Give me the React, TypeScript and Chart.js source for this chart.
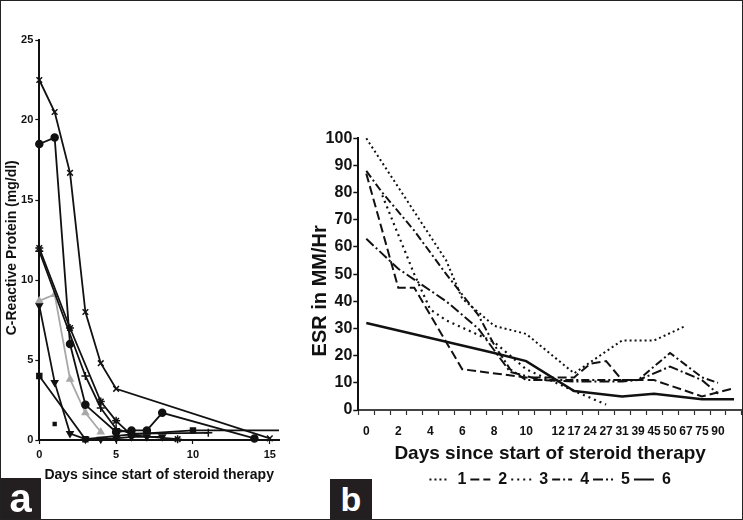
import { useEffect, useRef } from 'react';
import { Chart, registerables } from 'chart.js';

Chart.register(...registerables);

// ---------- Panel a : C-Reactive Protein ----------
const crpXMax = 15.6;
const crpYMax = 25;

const crp1Days = [0, 1, 2, 3, 4, 5, 15];
const crp1 = [22.5, 20.5, 16.7, 8.0, 4.8, 3.2, 0.1];
const crp2Days = [0, 1, 2, 3, 5, 6, 7, 8, 14];
const crp2 = [18.5, 18.9, 6.0, 2.2, 0.5, 0.6, 0.6, 1.7, 0.1];
const crp3Days = [0, 2, 4, 5, 6, 9];
const crp3 = [12.0, 7.0, 2.4, 1.2, 0.3, 0.05];
const crp4Days = [0, 3, 4, 5, 6, 11];
const crp4 = [11.8, 4.0, 2.0, 0.7, 0.4, 0.45];
const crp5Days = [0, 1, 2, 3, 4];
const crp5 = [8.7, 9.1, 3.8, 1.7, 0.5];
const crp6Days = [0, 1, 2, 3, 4, 5, 6, 7, 8];
const crp6 = [8.4, 3.6, 0.4, 0.05, 0.05, 0.1, 0.2, 0.2, 0.2];
const crp7Days = [0, 3, 6, 10, 15.6];
const crp7 = [4.0, 0.05, 0.35, 0.6, 0.6];
const crp8Days = [1];
const crp8 = [1.0];

// ---------- Panel b : ESR ----------
const esrDays = ['0', '1', '2', '3', '4', '5', '6', '7', '8', '9', '10', '11', '12',
  '17', '24', '27', '31', '39', '45', '50', '67', '75', '90', ''];
const esrSeriesNames = ['1', '2', '3', '4', '5', '6'];
const esr1 = [100, null, null, null, null, 55, 41, null, 31, null, 28, null, null, 13.5, null, null, 25.6, null, 25.6, null, 31, null, null, null];
const esr2 = [87, null, 45, 45, null, null, 15, null, null, null, 12, null, null, 12, 17, 18, 11, null, 11, null, null, 5, null, 8];
const esr3 = [null, 79, null, 50, 37, 33, null, null, 25, null, 15, null, null, 7, null, 2, null, null, null, null, null, null, null, null];
const esr4 = [88, 80, null, 66, null, 50, null, 35, 24, 15, 11, null, null, 11, null, null, null, 11, null, 21, null, 12, 10, null];
const esr5 = [63, null, 52, null, null, 40, null, 30, null, 14, null, 11, null, 10.5, null, null, 10.5, 11, null, 16, null, 11, 6, null];
const esr6 = [32, null, null, null, null, null, null, null, 21, null, 18, null, null, 7, null, null, 5, null, 6, null, null, 4, null, 4];

const INK = '#111';
const SANS = '"Liberation Sans", Arial, sans-serif';

const pts = (days: number[], vals: number[]) => days.map((d, i) => ({ x: d, y: vals[i] }));

function crpSet(days: number[], vals: number[], style: any, extra: any = {}) {
  return {
    data: pts(days, vals),
    showLine: true,
    borderColor: INK,
    borderWidth: 1.8,
    pointStyle: style,
    pointRadius: 4,
    pointBorderWidth: 1.5,
    pointBorderColor: INK,
    pointBackgroundColor: INK,
    clip: false,
    ...extra,
  };
}

function PanelA() {
  const ref = useRef<HTMLCanvasElement>(null);
  useEffect(() => {
    const chart = new Chart(ref.current!, {
      type: 'scatter',
      data: {
        datasets: [
          crpSet(crp1Days, crp1, 'crossRot'),
          crpSet(crp2Days, crp2, 'circle', { pointRadius: 3.5 }),
          crpSet(crp3Days, crp3, 'star'),
          crpSet(crp4Days, crp4, 'cross'),
          crpSet(crp5Days, crp5, 'triangle', { borderColor: '#a8a8a8', pointBorderColor: '#a8a8a8', pointBackgroundColor: '#a8a8a8', pointRadius: 3.5 }),
          crpSet(crp6Days, crp6, 'triangle', { pointRotation: 180, pointRadius: 3.5 }),
          crpSet(crp7Days, crp7, 'rect', { pointRadius: [3.5, 3.5, 3.5, 3.5, 0] }),
          crpSet(crp8Days, crp8, 'rect', { showLine: false, pointRadius: 2 }),
        ],
      } as any,
      options: {
        responsive: false,
        animation: false,
        layout: { padding: { left: 0, top: 40, right: 21, bottom: 0 } },
        plugins: { legend: { display: false }, tooltip: { enabled: false } },
        scales: {
          x: {
            type: 'linear',
            min: 0,
            max: crpXMax,
            afterFit: (s: any) => { s.height = 80; },
            ticks: { stepSize: 5, includeBounds: false, color: INK, font: { family: SANS, size: 11, weight: 'bold' }, padding: 4, maxRotation: 0 },
            grid: { display: true, drawOnChartArea: false, tickLength: 4, color: INK, tickWidth: 1.2 },
            border: { display: true, color: INK, width: 2 },
            title: { display: true, text: 'Days since start of steroid therapy', color: INK, font: { family: SANS, size: 14, weight: 'bold' }, padding: { top: 0, bottom: 36.6 } },
          },
          y: {
            type: 'linear',
            min: 0,
            max: crpYMax,
            afterFit: (s: any) => { s.width = 39.3; },
            ticks: { stepSize: 5, color: INK, font: { family: SANS, size: 11, weight: 'bold' }, padding: 2 },
            grid: { display: true, drawOnChartArea: false, tickLength: 4, color: INK, tickWidth: 1.2 },
            border: { display: true, color: INK, width: 2 },
            title: { display: true, text: 'C-Reactive Protein (mg/dl)    ', color: INK, font: { family: SANS, size: 14, weight: 'bold' }, padding: { top: 3.6, bottom: 0 } },
          },
        },
      } as any,
    });
    return () => chart.destroy();
  }, []);
  return <canvas ref={ref} width={300} height={520} style={{ position: 'absolute', left: 0, top: 0, width: 300, height: 520 }} />;
}

function esrSet(label: string, vals: (number | null)[], dash: number[], width = 2) {
  return {
    label,
    data: vals,
    borderColor: INK,
    backgroundColor: INK,
    borderWidth: width,
    borderDash: dash,
    pointRadius: 0,
    spanGaps: true,
    tension: 0,
    clip: false,
  };
}

function PanelB() {
  const ref = useRef<HTMLCanvasElement>(null);
  useEffect(() => {
    const chart = new Chart(ref.current!, {
      type: 'line',
      data: {
        labels: esrDays,
        datasets: [
          esrSet(esrSeriesNames[0], esr1, [2, 3]),
          esrSet(esrSeriesNames[1], esr2, [9, 4]),
          esrSet(esrSeriesNames[2], esr3, [2, 4], 2.2),
          esrSet(esrSeriesNames[3], esr4, [8, 3, 2, 3]),
          esrSet(esrSeriesNames[4], esr5, [10, 3, 2, 3]),
          esrSet(esrSeriesNames[5], esr6, [], 2.5),
        ],
      } as any,
      options: {
        responsive: false,
        animation: false,
        layout: { padding: { left: 0, top: 138.3, right: 0.7, bottom: 22.5 } },
        plugins: {
          tooltip: { enabled: false },
          legend: {
            display: true,
            position: 'bottom',
            fullSize: false,
            labels: {
              usePointStyle: true,
              pointStyleWidth: 20,
              padding: 4,
              color: INK,
              font: { family: SANS, size: 16, weight: 'bold' },
              generateLabels: (c: any) =>
                Chart.defaults.plugins.legend.labels.generateLabels(c).map((it: any) => ({
                  ...it,
                  pointStyle: 'line',
                  lineWidth: 2,
                  strokeStyle: INK,
                  fillStyle: INK,
                  lineDash: c.data.datasets[it.datasetIndex].borderDash || [],
                })),
            },
          },
        },
        scales: {
          x: {
            type: 'category',
            offset: true,
            afterFit: (s: any) => { s.height = 57.5; },
            ticks: {
              autoSkip: false,
              maxRotation: 0,
              minRotation: 0,
              padding: 9,
              color: INK,
              font: { family: SANS, size: 12, weight: 'bold' },
              callback: (_v: any, i: number) => (i <= 12 && i % 2 === 1 ? '' : esrDays[i]),
            },
            grid: { display: true, offset: true, drawOnChartArea: false, tickLength: 5, color: '#333', tickWidth: 1.2 },
            border: { display: true, color: '#444', width: 2 },
            title: { display: true, text: 'Days since start of steroid therapy', color: INK, font: { family: SANS, size: 19, weight: 'bold' }, padding: { top: 0, bottom: 2.1 } },
          },
          y: {
            type: 'linear',
            min: 0,
            max: 100,
            afterFit: (s: any) => { s.width = 58.3; },
            ticks: { stepSize: 10, color: INK, padding: 1, font: { family: SANS, size: 16, weight: 'bold' } },
            grid: { display: true, drawOnChartArea: false, tickLength: 5, color: INK, tickWidth: 1.5 },
            border: { display: true, color: INK, width: 2 },
            title: { display: true, text: 'ESR in MM/Hr      ', color: INK, font: { family: SANS, size: 20, weight: 'bold' }, padding: { top: 8, bottom: 0 } },
          },
        },
      } as any,
    });
    return () => chart.destroy();
  }, []);
  return <canvas ref={ref} width={443} height={520} style={{ position: 'absolute', left: 300, top: 0, width: 443, height: 520 }} />;
}

const tagStyle: any = {
  position: 'absolute',
  background: '#231f20',
  color: '#fff',
  fontFamily: SANS,
  fontWeight: 'bold',
  textAlign: 'center',
};

export default function App() {
  return (
    <div style={{ position: 'absolute', left: 0, top: 0, width: 743, height: 520, background: '#fff', overflow: 'hidden' }}>
      <PanelA />
      <PanelB />
      <div style={{ ...tagStyle, left: 0, top: 478, width: 41, height: 41, fontSize: 40, lineHeight: '40px' }}>a</div>
      <div style={{ ...tagStyle, left: 330, top: 479, width: 42, height: 41, fontSize: 34, lineHeight: '40px' }}>b</div>
      <div style={{ position: 'absolute', left: 0, top: 0, width: 743, height: 520, boxSizing: 'border-box', border: '1px solid #222', pointerEvents: 'none' }} />
    </div>
  );
}
